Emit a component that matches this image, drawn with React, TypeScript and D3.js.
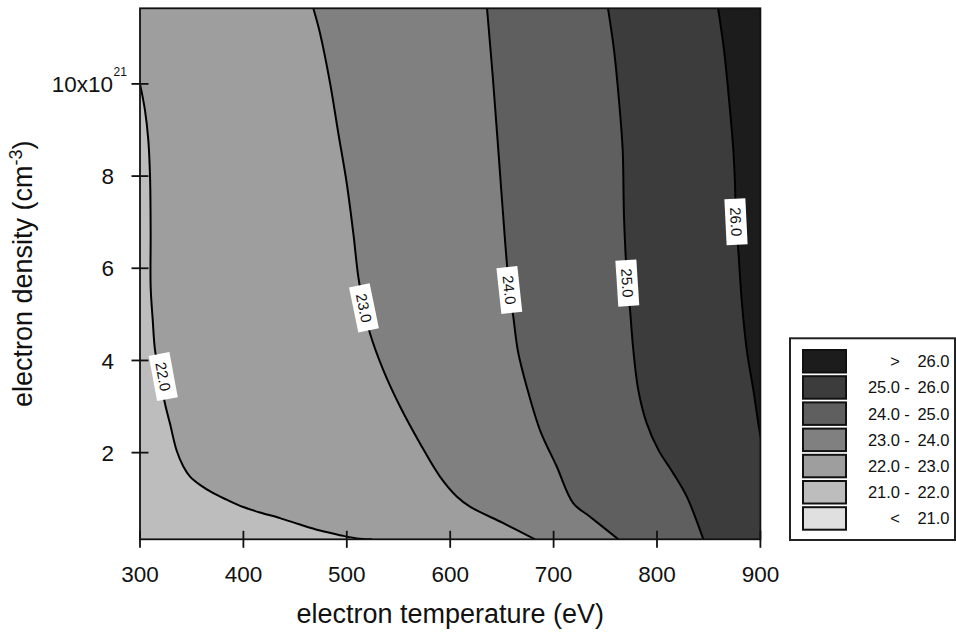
import React from "react";
import * as d3 from "d3";

// ---- data ----
const temperatureTicks = [300, 400, 500, 600, 700, 800, 900];
const densityTicks = [2, 4, 6, 8, 10];
const temperatureDomain = [300, 900];
const densityDomain = [0.12, 11.64];

// contour lines: [electron temperature (eV), electron density (1e21 cm^-3)]
const contour22: [number, number][] = [
  [300, 10.0], [304.8, 9.43], [308.0, 8.79], [309.7, 7.99], [310.3, 6.77], [310.3, 5.6],
  [312.3, 4.88], [314.5, 4.23], [319.3, 3.64], [324.2, 3.06], [329.0, 2.63], [335.5, 2.04],
  [341.9, 1.7], [348.4, 1.48], [358.0, 1.3], [370.9, 1.12], [383.8, 0.98], [399.9, 0.82],
  [416.1, 0.7], [435.4, 0.58], [454.7, 0.44], [474.1, 0.31], [493.4, 0.21], [509.6, 0.14],
  [524.4, 0.12],
];
const contour23: [number, number][] = [
  [467.6, 11.64], [474.1, 11.1], [483.8, 10.02], [491.8, 8.93], [499.9, 7.85], [506.3, 6.76],
  [511.1, 5.82], [516.6, 5.14], [522.4, 4.59], [535.3, 3.79], [551.5, 3.0], [570.8, 2.2],
  [590.1, 1.48], [606.3, 1.05], [619.1, 0.83], [651.4, 0.47], [682.0, 0.12],
];
const contour24: [number, number][] = [
  [635.6, 11.64], [641.4, 10.09], [647.2, 8.36], [653.0, 6.61], [657.2, 5.53], [661.0, 4.95],
  [665.5, 4.2], [674.0, 3.43], [686.8, 2.49], [703.0, 1.7], [719.1, 0.9],
  [735.2, 0.61], [762.6, 0.12],
];
const contour25: [number, number][] = [
  [752.6, 11.64], [758.4, 10.74], [763.2, 9.65], [766.8, 8.57], [768.1, 7.12], [771.3, 5.68],
  [773.9, 5.1], [777.1, 4.23], [781.9, 3.36], [790.0, 2.64], [801.3, 2.06], [815.8, 1.55],
  [828.7, 1.05], [844.8, 0.12],
];
const contour26: [number, number][] = [
  [859.1, 11.64], [864.8, 10.74], [869.7, 9.65], [873.8, 8.57], [875.4, 7.85], [876.4, 7.01],
  [878.6, 6.4], [881.9, 5.31], [886.8, 4.23], [893.2, 3.36], [899.0, 2.49], [901.6, 2.17],
];
const contourLevels = ["22.0", "23.0", "24.0", "25.0", "26.0"];
const contourLines = [contour22, contour23, contour24, contour25, contour26];
const labelPositions: [number, number][] = [
  [322.5, 3.65], [516.6, 5.14], [657.2, 5.53], [771.3, 5.68], [876.4, 7.01],
];

// fills: below lowest contour, then above each contour
const baseColor = "#bdbdbd";
const bandColors = ["#9e9e9e", "#808080", "#5f5f5f", "#3c3c3c", "#1c1c1c"];

const legendLow = [">", "25.0", "24.0", "23.0", "22.0", "21.0", "<"];
const legendHigh = ["26.0", "26.0", "25.0", "24.0", "23.0", "22.0", "21.0"];
const legendColors = ["#1c1c1c", "#3c3c3c", "#5f5f5f", "#808080", "#9e9e9e", "#bdbdbd", "#e0e0e0"];

const FONT = "'Liberation Sans', Arial, Helvetica, sans-serif";

export default function App() {
  const W = 956, H = 636;
  const x = d3.scaleLinear().domain(temperatureDomain).range([140, 760.4]);
  const y = d3.scaleLinear().domain(densityDomain).range([539.3, 8.3]);
  const [x0, x1] = x.range();
  const [y0, y1] = y.range(); // y0 bottom, y1 top

  const lineGen = d3
    .line<[number, number]>()
    .x((d) => x(d[0]))
    .y((d) => y(d[1]))
    .curve(d3.curveCatmullRom.alpha(0.5));

  const regionPath = (pts: [number, number][]) => {
    const first = pts[0];
    const last = pts[pts.length - 1];
    let p = lineGen(pts) as string;
    const far = x1 + 60;
    if (last[0] >= temperatureDomain[1]) {
      p += `L${far},${y(last[1])}`;
    } else {
      p += `L${x(last[0])},${y0 + 60}L${far},${y0 + 60}`;
    }
    p += `L${far},${y1 - 60}L${x(first[0])},${y1 - 60}Z`;
    return p;
  };

  const labelAngle = (pts: [number, number][], pos: [number, number]) => {
    const px = pts.map((d) => [x(d[0]), y(d[1])]);
    const lx = x(pos[0]), ly = y(pos[1]);
    let best = 0, bd = Infinity;
    for (let i = 0; i < px.length; i++) {
      const dd = (px[i][0] - lx) ** 2 + (px[i][1] - ly) ** 2;
      if (dd < bd) { bd = dd; best = i; }
    }
    const a = px[Math.max(0, best - 1)];
    const b = px[Math.min(px.length - 1, best + 1)];
    return (Math.atan2(b[1] - a[1], b[0] - a[0]) * 180) / Math.PI;
  };

  const tickLen = 8.5;

  return (
    <svg width={W} height={H} style={{ position: "absolute", left: 0, top: 0, background: "#fff" }} fontFamily={FONT}>
      <defs>
        <clipPath id="plotClip">
          <rect x={x0} y={y1} width={x1 - x0} height={y0 - y1} />
        </clipPath>
      </defs>
      <g clipPath="url(#plotClip)">
        <rect x={x0} y={y1} width={x1 - x0} height={y0 - y1} fill={baseColor} />
        {contourLines.map((pts, i) => (
          <path key={"f" + i} d={regionPath(pts)} fill={bandColors[i]} stroke="none" />
        ))}
        {contourLines.map((pts, i) => (
          <path key={"l" + i} d={lineGen(pts) as string} fill="none" stroke="#000" strokeWidth={2} />
        ))}
        {labelPositions.map((pos, i) => {
          const ang = labelAngle(contourLines[i], pos);
          return (
            <g key={"lab" + i} transform={`translate(${x(pos[0])},${y(pos[1])}) rotate(${ang})`}>
              <rect x={-23} y={-10.5} width={46} height={21} fill="#fff" />
              <text x={0} y={0} dy="0.36em" textAnchor="middle" fontSize={15} fill="#111">
                {contourLevels[i]}
              </text>
            </g>
          );
        })}
      </g>
      {/* frame */}
      <rect x={x0} y={y1} width={x1 - x0} height={y0 - y1} fill="none" stroke="#111" strokeWidth={1.8} />
      {/* x ticks */}
      {temperatureTicks.map((t) => (
        <g key={"xt" + t}>
          <line x1={x(t)} x2={x(t)} y1={y0 - tickLen} y2={y0 + tickLen} stroke="#111" strokeWidth={1.8} />
          <text x={x(t)} y={581.5} textAnchor="middle" fontSize={22.5} fill="#111">{t}</text>
        </g>
      ))}
      {/* y ticks */}
      {densityTicks.map((d) => (
        <g key={"yt" + d}>
          <line x1={x0 - tickLen} x2={x0 + tickLen} y1={y(d)} y2={y(d)} stroke="#111" strokeWidth={1.8} />
          {d === 10 ? (
            <>
              <text x={113} y={y(d)} dy="0.36em" textAnchor="end" fontSize={22.5} fill="#111">10x10</text>
              <text x={113.5} y={y(d) - 8} textAnchor="start" fontSize={12} fill="#111">21</text>
            </>
          ) : (
            <text x={114} y={y(d)} dy="0.36em" textAnchor="end" fontSize={22.5} fill="#111">{d}</text>
          )}
        </g>
      ))}
      {/* axis titles */}
      <text x={(x0 + x1) / 2} y={623} textAnchor="middle" fontSize={27} fill="#111">
        electron temperature (eV)
      </text>
      <text transform={`translate(32,${(y0 + y1) / 2}) rotate(-90)`} textAnchor="middle" fontSize={27} fill="#111">
        electron density (cm<tspan fontSize={18} dy={-10}>-3</tspan><tspan dy={10}>)</tspan>
      </text>
      {/* legend */}
      <rect x={790} y={338.3} width={165} height={201.7} fill="#fff" stroke="#222" strokeWidth={2} />
      {legendColors.map((c, i) => {
        const yy = 350 + i * 26.2;
        return (
          <g key={"lg" + i}>
            <rect x={803} y={yy} width={43} height={22.5} fill={c} stroke="#111" strokeWidth={2} />
            <text x={900} y={yy + 11.25} dy="0.36em" textAnchor="end" fontSize={16.5} fill="#111">
              {legendLow[i]}
            </text>
            {i > 0 && i < legendColors.length - 1 && (
              <text x={907} y={yy + 11.25} dy="0.36em" textAnchor="middle" fontSize={16.5} fill="#111">-</text>
            )}
            <text x={949.5} y={yy + 11.25} dy="0.36em" textAnchor="end" fontSize={16.5} fill="#111">
              {legendHigh[i]}
            </text>
          </g>
        );
      })}
    </svg>
  );
}
